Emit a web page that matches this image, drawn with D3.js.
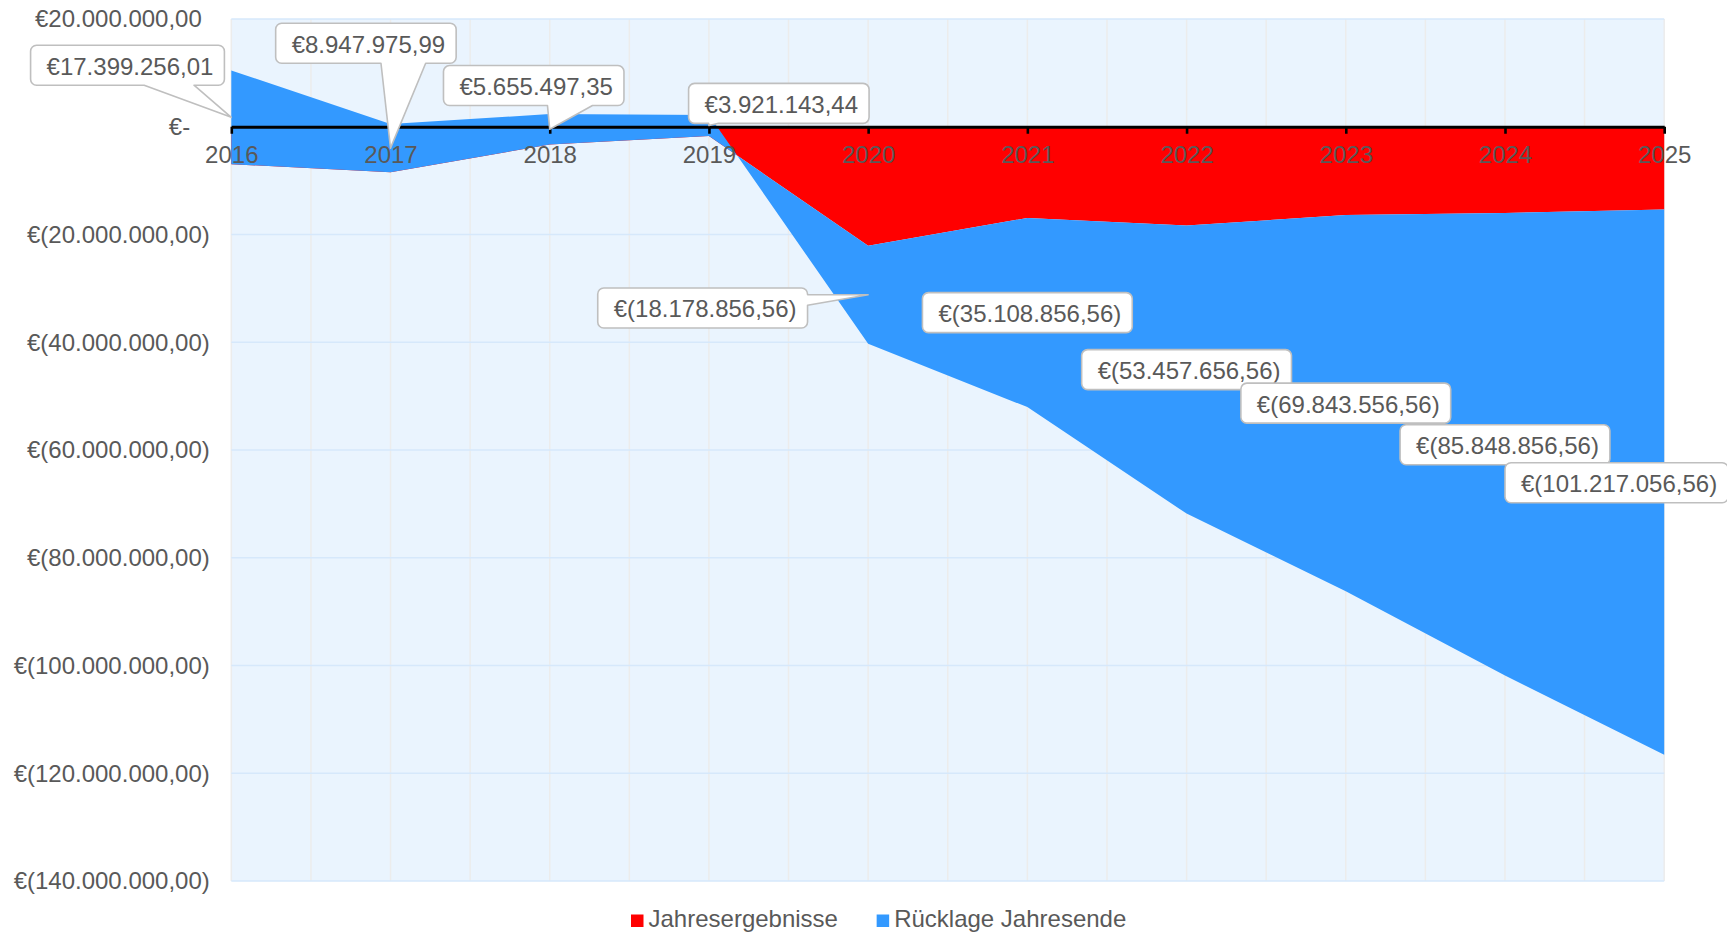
<!DOCTYPE html>
<html><head><meta charset="utf-8">
<script src="https://cdn.jsdelivr.net/npm/d3@7"></script>
<style>
html,body{margin:0;padding:0;background:#fff;}
svg{display:block;font-family:"Liberation Sans",Arial,Helvetica,sans-serif;}
</style></head><body>
<svg id="chart" width="1727" height="932"></svg>
<script>
// ---------- data ----------
const years = [2016, 2017, 2018, 2019, 2020, 2021, 2022, 2023, 2024, 2025];
const jahresergebnisse = [-6950000, -8451280.02, -3292478.64, -1734353.91, -22100000, -16930000, -18348800, -16385900, -16005300, -15368200];
const ruecklage = [17399256.01, 8947975.99, 5655497.35, 3921143.44, -18178856.56, -35108856.56, -53457656.56, -69843556.56, -85848856.56, -101217056.56];
const yTickValues = [20000000, 0, -20000000, -40000000, -60000000, -80000000, -100000000, -120000000, -140000000];
const seriesNames = ["Jahresergebnisse", "Rücklage Jahresende"];
const seriesKeys = ["ergebnis", "ruecklage"];
const seriesColors = ["#FF0000", "#3399FF"];

// ---------- layout of callouts (box centre offset from anchor, wedge) ----------
const calloutLayout = [
  {dx: -103.8, dy: -52.1, side: "bottom", b0: 113.6, b1: 163.4},
  {dx: -24.6,  dy: -104.9, side: "bottom", b0: 105.3, b1: 150},
  {dx: -16,    dy: -43.7, side: "bottom", b0: 104, b1: 149},
  {dx: 69.9,   dy: -22.2, side: "bottom", b0: 20, b1: 30},
  {dx: -165.5, dy: 13.2,  side: "right",  b0: 6.6, b1: 17.3},
  {dx: 0, dy: 0.1, side: null},
  {dx: 0, dy: 0, side: null},
  {dx: 0, dy: 0, side: null},
  {dx: 0, dy: 0.5, side: null},
  {dx: -47.6, dy: 0.6, side: null}
];

const svg = d3.select("#chart");
const plot = {left: 231.3, right: 1664.2, top: 19, bottom: 881};
const x = d3.scaleLinear().domain([2016, 2025]).range([plot.left, plot.right]);
const y = d3.scaleLinear().domain([-140000000, 20000000]).range([plot.bottom, plot.top]);

const loc = d3.formatLocale({decimal: ",", thousands: ".", grouping: [3], currency: ["€", ""]});
const num = loc.format(",.2f");
function eur(v) {
  if (Math.abs(v) < 0.005) return "€-";
  return v < 0 ? "€(" + num(-v) + ")" : "€" + num(v);
}
const textColor = "#595959";

// background
svg.append("rect")
  .attr("x", plot.left).attr("y", plot.top)
  .attr("width", plot.right - plot.left).attr("height", plot.bottom - plot.top)
  .attr("fill", "#EAF4FE");

// vertical grid (half-years)
const halfYears = d3.range(0, (2025 - 2016) * 2 + 1).map(i => 2016 + i / 2);
svg.append("g").selectAll("line").data(halfYears).join("line")
  .attr("x1", d => x(d)).attr("x2", d => x(d))
  .attr("y1", plot.top).attr("y2", plot.bottom)
  .attr("stroke", "#ECECEC").attr("stroke-width", 1.5);

// horizontal grid
svg.append("g").selectAll("line").data(yTickValues.filter(v => v !== 0)).join("line")
  .attr("x1", plot.left).attr("x2", plot.right)
  .attr("y1", d => y(d)).attr("y2", d => y(d))
  .attr("stroke", "#D6E8FB").attr("stroke-width", 1.5);

// stacked areas
const rows = years.map((yr, i) => ({year: yr, ergebnis: jahresergebnisse[i], ruecklage: ruecklage[i]}));
const stacked = d3.stack().keys(seriesKeys).offset(d3.stackOffsetNone)(rows);
const area = d3.area()
  .x(d => x(d.data.year))
  .y0(d => y(d[0]))
  .y1(d => y(d[1]));
svg.append("g").selectAll("path").data(stacked).join("path")
  .attr("d", area)
  .attr("fill", (d, i) => seriesColors[i]);

// x axis
const xAxis = d3.axisBottom(x).tickValues(years).tickFormat(d3.format("d"))
  .tickSize(7).tickSizeOuter(0).tickPadding(12);
const gx = svg.append("g").attr("transform", `translate(0,${y(0)})`).call(xAxis);
gx.select(".domain").attr("stroke", "#000").attr("stroke-width", 3);
gx.selectAll(".tick line").attr("stroke", "#000").attr("stroke-width", 2.6);
gx.selectAll(".tick text").attr("fill", textColor).attr("font-size", 24)
  .attr("font-family", '"Liberation Sans",Arial,sans-serif');

// y axis
const yAxis = d3.axisLeft(y).tickValues(yTickValues).tickFormat(eur).tickSize(0).tickPadding(21.5);
const gy = svg.append("g").attr("transform", `translate(${plot.left},0)`).call(yAxis);
gy.select(".domain").remove();
gy.selectAll(".tick text").attr("fill", textColor).attr("font-size", 24)
  .attr("font-family", '"Liberation Sans",Arial,sans-serif')
  .attr("dy", "0.33em")
  .attr("dx", d => d > 0 ? -8 : (d === 0 ? -19.6 : 0));

// callouts
function calloutPath(bx, by, w, h, r, side, b0, b1, tx, ty) {
  let p = `M${bx + r},${by}H${bx + w - r}A${r},${r} 0 0 1 ${bx + w},${by + r}`;
  if (side === "right") p += `V${by + b0}L${tx},${ty}L${bx + w},${by + b1}`;
  p += `V${by + h - r}A${r},${r} 0 0 1 ${bx + w - r},${by + h}`;
  if (side === "bottom") p += `H${bx + b1}L${tx},${ty}L${bx + b0},${by + h}`;
  p += `H${bx + r}A${r},${r} 0 0 1 ${bx},${by + h - r}V${by + r}A${r},${r} 0 0 1 ${bx + r},${by}Z`;
  return p;
}
const gl = svg.append("g");
stacked[1].forEach((d, i) => {
  const ax = x(d.data.year);
  const ay = y((d[0] + d[1]) / 2);
  const L = calloutLayout[i];
  const cx = ax + L.dx, cy = ay + L.dy;
  const g = gl.append("g");
  const path = g.append("path");
  const t = g.append("text")
    .attr("x", cx + 2.5).attr("y", cy + 1).attr("dy", "0.35em")
    .attr("text-anchor", "middle")
    .attr("font-size", 24).attr("fill", textColor)
    .text(eur(ruecklage[i]));
  const tw = t.node().getComputedTextLength();
  const w = tw + 27, h = 40;
  const bx = cx - w / 2, by = cy - h / 2;
  path.attr("d", calloutPath(bx, by, w, h, 6, L.side, L.b0, L.b1, ax, ay))
    .attr("fill", "#fff").attr("stroke", "#BFBFBF").attr("stroke-width", 1.6)
    .attr("stroke-linejoin", "round");
});

// legend
const legend = svg.append("g");
let lx = 631;
seriesNames.forEach((name, i) => {
  legend.append("rect").attr("x", lx).attr("y", 914.5).attr("width", 12.5).attr("height", 12.5)
    .attr("fill", seriesColors[i]);
  const t = legend.append("text").attr("x", lx + 17.5).attr("y", 927)
    .attr("font-size", 24).attr("fill", textColor).text(name);
  lx += 17.5 + t.node().getComputedTextLength() + 38.7;
});
</script>
</body></html>
